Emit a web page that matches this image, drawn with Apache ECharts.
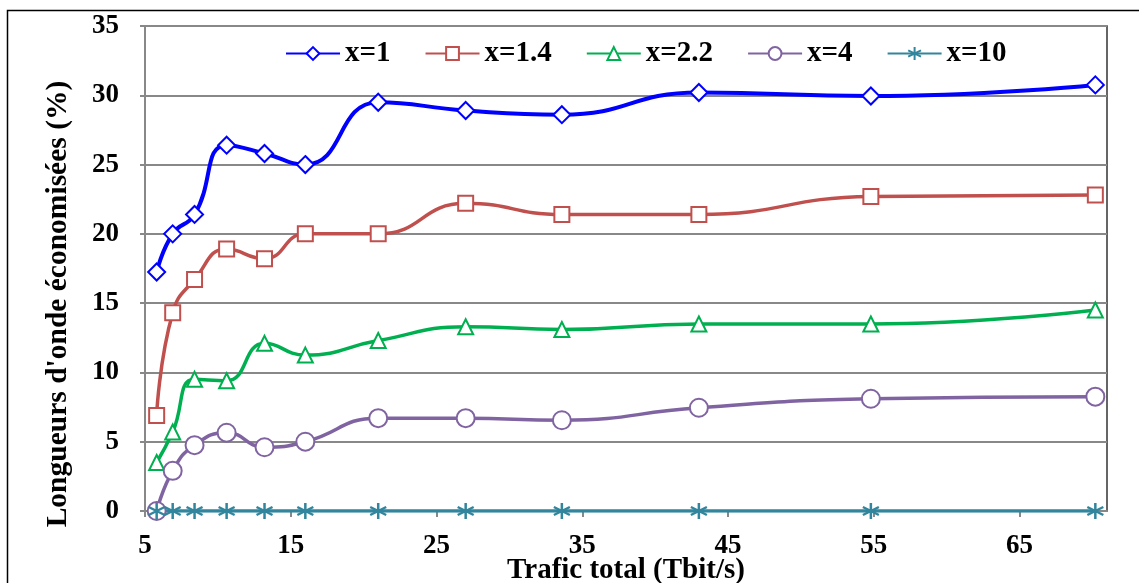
<!DOCTYPE html>
<html>
<head>
<meta charset="utf-8">
<script src="https://cdn.jsdelivr.net/npm/echarts@6/dist/echarts.min.js"></script>
<style>
  html, body { margin: 0; padding: 0; background: #fff; }
  #main { width: 1139px; height: 583px; }
</style>
</head>
<body>
<div id="main"></div>
<script>
// trafic total (Tbit/s)
var traffic = [5.8, 6.9, 8.4, 10.6, 13.2, 16, 21, 27, 33.6, 43, 54.8, 70.2];
// longueurs d'onde economisees (%)
var x1   = [17.25, 20.0, 21.4, 26.4, 25.8, 25.0, 29.5, 28.9, 28.6, 30.2, 29.95, 30.75];
var x1_4 = [6.9, 14.3, 16.7, 18.9, 18.2, 20.0, 20.0, 22.2, 21.4, 21.4, 22.7, 22.8];
var x2_2 = [3.5, 5.7, 9.5, 9.4, 12.1, 11.25, 12.3, 13.3, 13.1, 13.5, 13.5, 14.5];
var x4   = [0, 2.9, 4.75, 5.65, 4.6, 5.0, 6.7, 6.7, 6.55, 7.45, 8.1, 8.25];
var x10  = [0, 0, 0, 0, 0, 0, 0, 0, 0, 0, 0, 0];
var names = ['x=1', 'x=1.4', 'x=2.2', 'x=4', 'x=10'];
var yTicks = [0, 5, 10, 15, 20, 25, 30, 35];
var xTicks = [5, 15, 25, 35, 45, 55, 65];

var font = 'Liberation Serif';
var asterisk = 'path://M10,0 L10,20 M1.34,5 L18.66,15 M1.34,15 L18.66,5';

function pts(arr) {
    return traffic.map(function (t, i) { return [t, arr[i]]; });
}

function serie(name, arr, color, symbol, size, lw) {
    return {
        name: name,
        type: 'line',
        smooth: 0.5,
        data: pts(arr),
        symbol: symbol,
        symbolSize: size,
        showAllSymbol: true,
        lineStyle: { color: color, width: lw },
        itemStyle: { color: color, borderColor: color, borderWidth: symbol === asterisk ? 2.5 : 2 },
        emphasis: { disabled: true }
    };
}

var chart = echarts.init(document.getElementById('main'));
var option = {
    animation: false,
    backgroundColor: '#fff',
    textStyle: { fontFamily: font },
    grid: {
        left: 145, right: 32, top: 26, bottom: 72,
        containLabel: false, outerBoundsMode: 'none',
        show: true, borderColor: '#333', borderWidth: 1.5
    },
    legend: {
        top: 34, left: 280,
        itemWidth: 54, itemHeight: 16, itemGap: 34,
        textStyle: { fontFamily: font, fontWeight: 'bold', fontSize: 29, color: '#000' },
        data: names
    },
    xAxis: {
        type: 'value',
        min: xTicks[0], max: 71, interval: 10,
        name: 'Trafic total (Tbit/s)',
        nameLocation: 'middle', nameGap: 45, nameMoveOverlap: false,
        nameTextStyle: { fontFamily: font, fontWeight: 'bold', fontSize: 29, color: '#000' },
        axisLine: { lineStyle: { color: '#888', width: 2 } },
        axisTick: { show: true, length: 6, lineStyle: { color: '#888', width: 2 } },
        axisLabel: {
            margin: 22, fontFamily: font, fontWeight: 'bold', fontSize: 27, color: '#000',
            showMaxLabel: false,
            formatter: function (v) { return xTicks.indexOf(v) >= 0 ? String(v) : ''; }
        },
        splitLine: { show: false }
    },
    yAxis: {
        type: 'value',
        min: yTicks[0], max: yTicks[yTicks.length - 1], interval: 5,
        axisLine: { show: true, lineStyle: { color: '#888', width: 2 } },
        axisTick: { show: true, length: 5, lineStyle: { color: '#888', width: 2 } },
        axisLabel: { margin: 26, fontFamily: font, fontWeight: 'bold', fontSize: 27, color: '#000' },
        splitLine: { show: true, lineStyle: { color: '#888', width: 2 } }
    },
    graphic: [{
        type: 'rect',
        shape: { x: 7.5, y: 10.5, width: 1160, height: 620 },
        style: { fill: 'none', stroke: '#000', lineWidth: 1.5 },
        silent: true, z: -1
    }, {
        type: 'text',
        x: 58, y: 304, rotation: Math.PI / 2,
        style: {
            text: "Longueurs d'onde économisées (%)",
            font: 'bold 29.5px "Liberation Serif"', fill: '#000',
            align: 'center', verticalAlign: 'middle'
        },
        silent: true
    }],
    series: [
        serie(names[0], x1, '#0000FF', 'emptyDiamond', 17, 4),
        serie(names[1], x1_4, '#C0504D', 'emptyRect', 15, 3.5),
        serie(names[2], x2_2, '#00B050', 'emptyTriangle', 15, 3.5),
        serie(names[3], x4, '#8064A2', 'emptyCircle', 18, 3.5),
        serie(names[4], x10, '#31859C', asterisk, 16, 3.5)
    ]
};
chart.setOption(option);
</script>
</body>
</html>
